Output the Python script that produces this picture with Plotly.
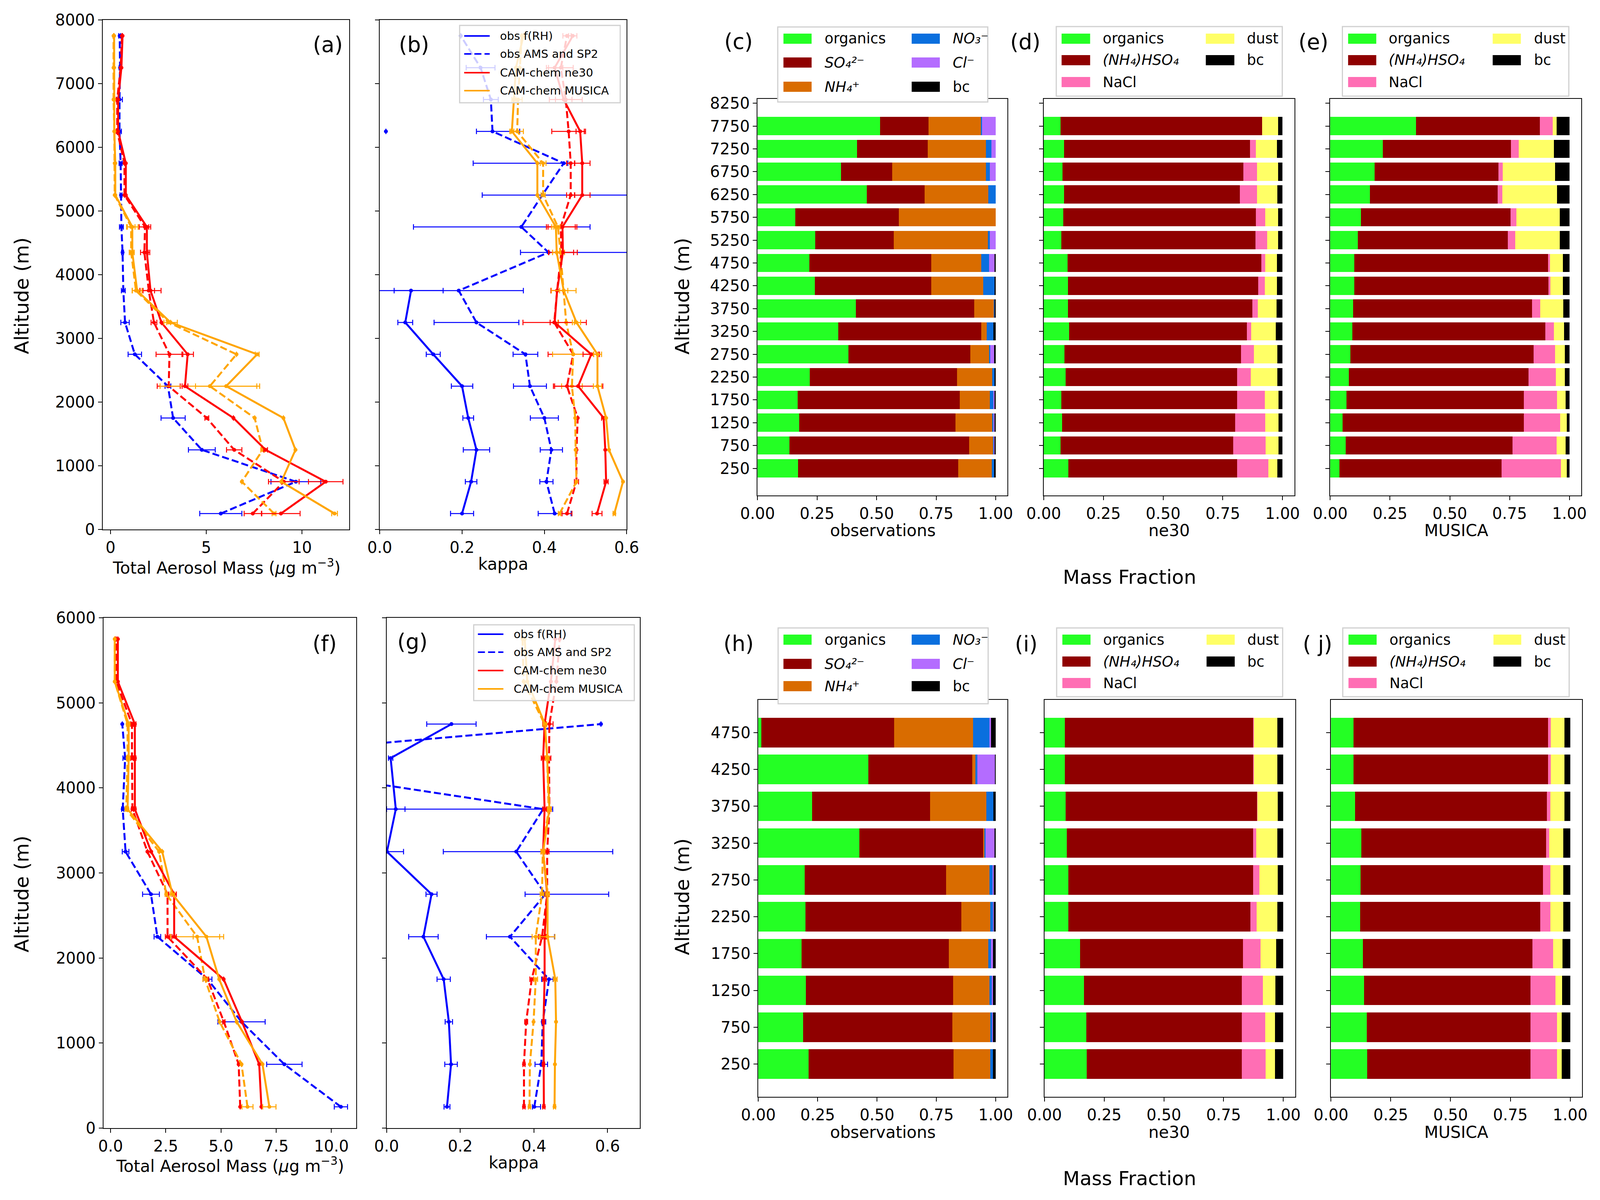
import plotly.graph_objects as go

W, H = 4205, 3071

# altitude levels
alt_prof = [250, 750, 1250, 1750, 2250, 2750, 3250, 3750, 4350, 4750, 5250, 5750, 6250, 6750, 7250, 7750]
alt_prof_low = [250, 750, 1250, 1750, 2250, 2750, 3250, 3750, 4350, 4750, 5250, 5750]
alt_bar = [250, 750, 1250, 1750, 2250, 2750, 3250, 3750, 4250, 4750, 5250, 5750, 6250, 6750, 7250, 7750]
alt_bar_low = [250, 750, 1250, 1750, 2250, 2750, 3250, 3750, 4250, 4750]

# (a) total aerosol mass, upper
ams_a = [5.76, 9.68, 4.77, 3.27, 3.0, 1.27, 0.76, 0.67, 0.63, 0.57, 0.55, 0.53, 0.47, 0.47, 0.5, 0.48]
ams_a_err = [1.1, 1.3, 0.7, 0.63, 0.15, 0.35, 0.22, 0.1, 0.05, 0.1, 0.05, 0.08, 0.1, 0.15, 0.05, 0.05]
ne30_a = [8.9, 11.24, 8.1, 6.42, 3.89, 4.03, 2.66, 2.09, 1.9, 1.9, 0.8, 0.8, 0.4, 0.4, 0.57, 0.63]
ne30_a_err = [1.0, 0.9, 0.1, 0, 0.15, 0.3, 0, 0.55, 0.15, 0.1, 0, 0, 0, 0, 0, 0]
ne30d_a = [7.43, 9.05, 6.46, 5.03, 3.04, 3.08, 2.27, 2.0, 1.77, 1.8, 0.73, 0.73, 0.35, 0.35, 0.53, 0.6]
ne30d_a_err = [0.45, 0.8, 0.4, 0.1, 0.6, 0.7, 0.15, 0.3, 0.2, 0.3, 0, 0, 0.05, 0.05, 0, 0]
mus_a = [11.7, 8.92, 9.66, 9.03, 6.04, 7.66, 3.14, 1.39, 1.14, 1.14, 0.25, 0.25, 0.2, 0.19, 0.19, 0.19]
mus_a_err = [0.15, 0, 0, 0, 1.6, 0.1, 0.35, 0.25, 0.1, 0.3, 0, 0, 0, 0, 0, 0]
musd_a = [8.54, 6.86, 7.95, 7.53, 5.19, 6.58, 3.04, 1.33, 1.08, 1.08, 0.22, 0.22, 0.2, 0.16, 0.16, 0.16]
musd_a_err = [0.1, 0, 0.1, 0, 2.6, 0, 0.1, 0.2, 0.1, 0.2, 0, 0, 0, 0, 0, 0]

# (b) kappa, upper
frh_b = [0.2, 0.222, 0.235, 0.215, 0.2, 0.13, 0.062, 0.076, None, None, None, None, 0.015, None, None, None]
frh_b_err = [0.028, 0.014, 0.032, 0.013, 0.026, 0.017, 0.018, 0.078, None, None, None, None, None, None, None, None]
ams_b = [0.425, 0.405, 0.417, 0.4, 0.365, 0.354, 0.235, 0.192, 0.41, 0.344, 0.395, 0.447, 0.274, 0.27, 0.245, 0.197]
ams_b_plus = [0.04, 0.016, 0.027, 0.034, 0.04, 0.03, 0.103, 0.157, 0.2, 0.167, 0.3, 0.01, 0.066, 0.018, 0.035, 0]
ams_b_minus = [0.04, 0.016, 0.027, 0.034, 0.04, 0.03, 0.103, 0.157, 0.068, 0.262, 0.146, 0.22, 0.039, 0.018, 0.035, 0]
ne30_b = [0.528, 0.55, 0.548, 0.544, 0.482, 0.514, 0.425, 0.431, 0.445, 0.444, 0.492, 0.492, 0.487, 0.447, 0.425, 0.469]
ne30_b_err = [0.012, 0.005, 0, 0.005, 0.06, 0.02, 0.077, 0.015, 0.035, 0.035, 0.019, 0.019, 0.01, 0.02, 0.02, 0.01]
ne30d_b = [0.455, 0.478, 0.478, 0.481, 0.455, 0.47, 0.424, 0.431, 0.441, 0.44, 0.464, 0.464, 0.459, 0.452, 0.44, 0.455]
ne30d_b_err = [0.012, 0.005, 0, 0, 0.03, 0.061, 0.01, 0.015, 0.03, 0.035, 0.01, 0.01, 0.041, 0.04, 0.03, 0.01]
mus_b = [0.57, 0.591, 0.557, 0.55, 0.529, 0.529, 0.478, 0.447, 0.43, 0.428, 0.383, 0.383, 0.321, 0.326, 0.331, 0.349]
mus_b_err = [0.003, 0, 0, 0, 0.01, 0.01, 0.01, 0.03, 0.01, 0.01, 0, 0, 0.005, 0.005, 0, 0]
musd_b = [0.437, 0.478, 0.476, 0.475, 0.467, 0.47, 0.453, 0.447, 0.439, 0.433, 0.397, 0.397, 0.334, 0.336, 0.34, 0.345]
musd_b_err = [0.003, 0, 0, 0, 0.025, 0.05, 0.02, 0.01, 0.01, 0.01, 0.005, 0.007, 0.015, 0.01, 0, 0]

# (f) total aerosol mass, lower
ams_f = [10.43, 7.87, 5.93, 4.39, 2.12, 1.83, 0.68, 0.55, 0.66, 0.53, None, None]
ams_f_err = [0.3, 0.8, 1.07, 0.2, 0.15, 0.38, 0.15, 0.05, 0.1, 0, None, None]
ne30_f = [6.83, 6.73, 5.95, 5.12, 2.88, 2.88, 1.84, 1.1, 1.1, 1.1, 0.33, 0.33]
ne30_f_err = [0, 0, 0, 0, 0.1, 0.1, 0, 0.05, 0.05, 0.05, 0, 0]
ne30d_f = [5.87, 5.8, 5.13, 4.39, 2.58, 2.58, 1.67, 0.99, 0.97, 0.97, 0.25, 0.25]
ne30d_f_err = [0, 0, 0.05, 0.05, 0.1, 0.05, 0, 0.05, 0.05, 0.05, 0, 0]
mus_f = [7.19, 6.88, 5.71, 4.92, 4.34, 2.8, 2.34, 0.77, 0.82, 0.82, 0.19, 0.19]
mus_f_err = [0.3, 0, 0, 0, 0.6, 0.1, 0, 0.05, 0.05, 0.05, 0, 0]
musd_f = [6.2, 5.93, 4.94, 4.28, 3.92, 2.52, 2.2, 0.71, 0.77, 0.77, 0.19, 0.19]
musd_f_err = [0.25, 0, 0, 0.1, 1.2, 0.05, 0, 0.05, 0.05, 0.05, 0, 0]

# (g) kappa, lower
frh_g = [0.164, 0.175, 0.169, 0.155, 0.1, 0.122, 0.001, 0.025, 0.011, 0.176, None, None]
frh_g_err = [0.008, 0.017, 0.01, 0.018, 0.04, 0.015, 0.045, 0.025, 0.006, 0.067, None, None]
ams_g = [0.401, 0.42, 0.424, 0.441, 0.335, 0.431, 0.352, 0.425, -0.49, 0.582, None, None]
ams_g_plus = [0.017, 0.017, 0.008, 0.011, 0.121, 0.172, 0.262, 0.026, 0, 0, None, None]
ams_g_minus = [0.005, 0.017, 0.003, 0.02, 0.064, 0.055, 0.198, 0.425, 0, 0, None, None]
ne30_g = [0.427, 0.426, 0.426, 0.429, 0.429, 0.436, 0.425, 0.429, 0.425, 0.429, 0.446, 0.458]
ne30_g_err = [0.003, 0.003, 0.003, 0.005, 0.005, 0.005, 0.005, 0.005, 0.005, 0.005, 0, 0]
ne30d_g = [0.373, 0.373, 0.379, 0.394, 0.422, 0.436, 0.436, 0.442, 0.441, 0.442, 0.461, 0.47]
ne30d_g_err = [0.003, 0.003, 0.004, 0.005, 0.01, 0.005, 0.005, 0.005, 0.005, 0.01, 0, 0]
mus_g = [0.456, 0.457, 0.46, 0.458, 0.437, 0.437, 0.425, 0.442, 0.436, 0.43, 0.382, 0.375]
mus_g_err = [0.003, 0, 0, 0.005, 0.02, 0.005, 0.005, 0.005, 0.005, 0.005, 0, 0]
musd_g = [0.388, 0.389, 0.399, 0.405, 0.405, 0.422, 0.424, 0.44, 0.436, 0.429, 0.372, 0.369]
musd_g_err = [0.003, 0, 0, 0.005, 0.01, 0.005, 0.005, 0.005, 0.005, 0.005, 0, 0]

# (c) observed mass fractions, upper
c_org = [.17, .134, .175, .169, .22, .381, .339, .413, .241, .217, .242, .158, .459, .35, .418, .514]
c_so4 = [.673, .755, .657, .681, .617, .513, .601, .497, .488, .513, .33, .435, .242, .215, .296, .204]
c_nh4 = [.14, .099, .154, .126, .149, .078, .022, .083, .218, .21, .396, .407, .268, .394, .245, .222]
c_no3 = [.01, .005, .005, .014, .009, .006, .029, .002, .05, .033, .008, 0, .031, .016, .023, .003]
c_cl = [0, .003, .005, .005, 0, .015, 0, 0, 0, .023, .024, 0, 0, .025, .018, .057]
c_bc = [.007, .004, .004, .005, .005, .007, .009, .005, .003, .004, 0, 0, 0, 0, 0, 0]

# (d) ne30 mass fractions, upper
d_org = [.104, .07, .077, .074, .092, .087, .107, .101, .101, .1, .074, .082, .085, .079, .085, .07]
d_sulf = [.706, .723, .724, .736, .718, .739, .743, .773, .798, .812, .812, .807, .736, .757, .779, .845]
d_nacl = [.13, .137, .126, .116, .057, .054, .019, .022, .027, .015, .049, .038, .072, .057, .024, 0]
d_dust = [.038, .054, .056, .057, .111, .098, .103, .079, .05, .049, .046, .054, .086, .088, .088, .066]
d_bc = [.022, .016, .017, .017, .022, .022, .028, .025, .024, .024, .019, .019, .021, .019, .024, .019]

# (e) MUSICA mass fractions, upper
e_org = [.039, .065, .051, .068, .077, .084, .092, .096, .101, .101, .115, .128, .166, .185, .22, .359]
e_sulf = [.678, .697, .759, .741, .752, .766, .808, .748, .811, .809, .628, .626, .534, .518, .535, .518]
e_nacl = [.247, .184, .152, .139, .114, .09, .035, .034, .009, .009, .031, .025, .019, .019, .033, .053]
e_dust = [.025, .038, .027, .036, .038, .041, .043, .097, .052, .053, .186, .181, .229, .218, .147, .016]
e_bc = [.011, .016, .011, .016, .019, .019, .022, .025, .027, .028, .04, .04, .052, .06, .065, .054]

# (h) observed mass fractions, lower
h_org = [.211, .189, .2, .182, .199, .195, .426, .226, .463, .013]
h_so4 = [.611, .629, .62, .621, .656, .596, .521, .497, .439, .559]
h_nh4 = [.155, .159, .153, .166, .122, .183, .007, .237, .013, .332]
h_no3 = [.012, .008, .01, .012, .011, .015, .003, .03, .007, .069]
h_cl = [0, .004, .006, .008, .004, .002, .038, 0, .074, .008]
h_bc = [.011, .011, .011, .011, .008, .009, .005, .01, .004, .019]

# (i) ne30 mass fractions, lower
i_org = [.177, .176, .166, .149, .1, .1, .093, .089, .085, .085]
i_sulf = [.649, .65, .66, .682, .762, .773, .78, .801, .788, .788]
i_nacl = [.1, .098, .089, .074, .027, .027, .013, .002, .004, .004]
i_dust = [.039, .041, .052, .065, .086, .076, .089, .084, .098, .098]
i_bc = [.035, .035, .033, .03, .025, .024, .025, .024, .025, .025]

# (j) MUSICA mass fractions, lower
j_org = [.152, .149, .139, .134, .122, .123, .127, .1, .095, .095]
j_sulf = [.682, .685, .695, .708, .753, .763, .772, .803, .812, .812]
j_nacl = [.111, .111, .104, .087, .043, .032, .014, .015, .012, .012]
j_dust = [.02, .02, .029, .039, .054, .054, .059, .058, .057, .057]
j_bc = [.035, .035, .033, .032, .028, .028, .028, .024, .024, .024]

FONT = "DejaVu Sans"
BLUE, RED, ORANGE = "#0000ff", "#ff0000", "#ffa500"
C_ORG, C_SO4, C_NH4, C_NO3, C_CL, C_BC = "#24ff24", "#8f0000", "#d96c00", "#0a6fde", "#b46cff", "#000000"
C_NACL, C_DUST = "#ff6eb4", "#ffff66"
DASH = "18px,8px"


def X(p):
    return p / W


def Y(p):
    return 1 - p / H


fig = go.Figure()


def prof(k, x, y, color, dash, err=None, errm=None):
    ex = dict(type="data", array=err, color=color, thickness=2.5, width=7, visible=err is not None)
    if errm is not None:
        ex["symmetric"] = False
        ex["arrayminus"] = errm
    sfx = "" if k == 1 else str(k)
    fig.add_trace(go.Scatter(x=x, y=y, mode="lines+markers",
                             line=dict(color=color, width=5, dash=dash),
                             marker=dict(color=color, size=10),
                             error_x=ex, showlegend=False,
                             xaxis="x" + sfx, yaxis="y" + sfx))


def bar(k, x, y, color):
    sfx = "" if k == 1 else str(k)
    fig.add_trace(go.Bar(x=x, y=y, orientation="h", width=400,
                         marker=dict(color=color, line=dict(width=0)),
                         showlegend=False, xaxis="x" + sfx, yaxis="y" + sfx))


# (a)
prof(1, ams_a, alt_prof, BLUE, DASH, ams_a_err)
prof(1, ne30d_a, alt_prof, RED, DASH, ne30d_a_err)
prof(1, musd_a, alt_prof, ORANGE, DASH, musd_a_err)
prof(1, ne30_a, alt_prof, RED, "solid", ne30_a_err)
prof(1, mus_a, alt_prof, ORANGE, "solid", mus_a_err)
# (b)
prof(2, frh_b, alt_prof, BLUE, "solid", frh_b_err)
prof(2, ams_b, alt_prof, BLUE, DASH, ams_b_plus, ams_b_minus)
prof(2, ne30d_b, alt_prof, RED, DASH, ne30d_b_err)
prof(2, musd_b, alt_prof, ORANGE, DASH, musd_b_err)
prof(2, ne30_b, alt_prof, RED, "solid", ne30_b_err)
prof(2, mus_b, alt_prof, ORANGE, "solid", mus_b_err)
# (f)
prof(6, ams_f, alt_prof_low, BLUE, DASH, ams_f_err)
prof(6, ne30d_f, alt_prof_low, RED, DASH, ne30d_f_err)
prof(6, musd_f, alt_prof_low, ORANGE, DASH, musd_f_err)
prof(6, ne30_f, alt_prof_low, RED, "solid", ne30_f_err)
prof(6, mus_f, alt_prof_low, ORANGE, "solid", mus_f_err)
# (g)
prof(7, frh_g, alt_prof_low, BLUE, "solid", frh_g_err)
prof(7, ams_g, alt_prof_low, BLUE, DASH, ams_g_plus, ams_g_minus)
prof(7, ne30d_g, alt_prof_low, RED, DASH, ne30d_g_err)
prof(7, musd_g, alt_prof_low, ORANGE, DASH, musd_g_err)
prof(7, ne30_g, alt_prof_low, RED, "solid", ne30_g_err)
prof(7, mus_g, alt_prof_low, ORANGE, "solid", mus_g_err)

# stacked bars
for k, alts, parts in [
    (3, alt_bar, [(c_org, C_ORG), (c_so4, C_SO4), (c_nh4, C_NH4), (c_no3, C_NO3), (c_cl, C_CL), (c_bc, C_BC)]),
    (4, alt_bar, [(d_org, C_ORG), (d_sulf, C_SO4), (d_nacl, C_NACL), (d_dust, C_DUST), (d_bc, C_BC)]),
    (5, alt_bar, [(e_org, C_ORG), (e_sulf, C_SO4), (e_nacl, C_NACL), (e_dust, C_DUST), (e_bc, C_BC)]),
    (8, alt_bar_low, [(h_org, C_ORG), (h_so4, C_SO4), (h_nh4, C_NH4), (h_no3, C_NO3), (h_cl, C_CL), (h_bc, C_BC)]),
    (9, alt_bar_low, [(i_org, C_ORG), (i_sulf, C_SO4), (i_nacl, C_NACL), (i_dust, C_DUST), (i_bc, C_BC)]),
    (10, alt_bar_low, [(j_org, C_ORG), (j_sulf, C_SO4), (j_nacl, C_NACL), (j_dust, C_DUST), (j_bc, C_BC)]),
]:
    for vals, col in parts:
        bar(k, vals, alts, col)

# axes: pixel boxes (x0, x1, y0, y1)
boxes = {
    1: (270, 918, 51, 1355), 2: (998, 1647, 51, 1355),
    3: (1991, 2648, 253, 1268), 4: (2743, 3402, 253, 1268), 5: (3496, 4156, 253, 1268),
    6: (272, 936, 1581, 2887), 7: (1016, 1682, 1581, 2887),
    8: (1993, 2648, 1791, 2807), 9: (2745, 3404, 1791, 2807), 10: (3498, 4158, 1791, 2807),
}
tickfont = dict(family=FONT, size=40, color="black")
common = dict(showline=True, mirror=True, linecolor="black", linewidth=2, ticks="outside",
              ticklen=10, tickwidth=2, tickcolor="black", showgrid=False, zeroline=False,
              tickfont=tickfont, automargin=False)
bar_x = dict(range=[0, 1.05], tickvals=[0, 0.25, 0.5, 0.75, 1.0],
             ticktext=["0.00", "0.25", "0.50", "0.75", "1.00"])
kap_x = dict(tickvals=[0, 0.2, 0.4, 0.6], ticktext=["0.0", "0.2", "0.4", "0.6"])
xs = {
    1: dict(range=[-0.405, 12.47], tickvals=[0, 5, 10]),
    2: dict(range=[0, 0.6], **kap_x),
    3: bar_x, 4: bar_x, 5: bar_x,
    6: dict(range=[-0.32, 11.12], tickvals=[0, 2.5, 5, 7.5, 10], ticktext=["0.0", "2.5", "5.0", "7.5", "10.0"]),
    7: dict(range=[0, 0.688], **kap_x),
    8: bar_x, 9: bar_x, 10: bar_x,
}
up_y = list(range(250, 8251, 500))
low_y = list(range(250, 4751, 500))
ys = {
    1: dict(range=[0, 8000], tickvals=list(range(0, 8001, 1000))),
    2: dict(range=[0, 8000], tickvals=list(range(0, 8001, 1000)), showticklabels=False),
    3: dict(range=[-345, 8345], tickvals=up_y),
    4: dict(range=[-345, 8345], tickvals=up_y, showticklabels=False),
    5: dict(range=[-345, 8345], tickvals=up_y, showticklabels=False),
    6: dict(range=[0, 6000], tickvals=list(range(0, 6001, 1000))),
    7: dict(range=[0, 6000], tickvals=list(range(0, 6001, 1000)), showticklabels=False),
    8: dict(range=[-195, 5195], tickvals=low_y),
    9: dict(range=[-195, 5195], tickvals=low_y, showticklabels=False),
    10: dict(range=[-195, 5195], tickvals=low_y, showticklabels=False),
}
layout = {}
for k, (x0, x1, y0, y1) in boxes.items():
    sfx = "" if k == 1 else str(k)
    layout["xaxis" + sfx] = dict(domain=[X(x0), X(x1)], anchor="y" + sfx, **common, **xs[k])
    layout["yaxis" + sfx] = dict(domain=[Y(y1), Y(y0)], anchor="x" + sfx, **common, **ys[k])

ann = []
shapes = []


def text(x, y, s, size, angle=0, anchor="center"):
    ann.append(dict(x=X(x), y=Y(y), xref="paper", yref="paper", text=s, showarrow=False,
                    font=dict(family=FONT, size=size, color="black"), textangle=angle,
                    xanchor=anchor, yanchor="middle"))


# panel labels
for lab, x, y in [("(a)", 862, 114), ("(b)", 1088, 114), ("(c)", 1941, 106), ("(d)", 2695, 107),
                  ("(e)", 3452, 107), ("(f)", 853, 1647), ("(g)", 1084, 1642), ("(h)", 1941, 1647),
                  ("(i)", 2697, 1648), ("( j)", 3463, 1648)]:
    text(x, y, lab, 55)

# axis titles
for x, y in [(57, 757), (1793, 758), (57, 2288), (1793, 2295)]:
    text(x, y, "Altitude (m)", 50, angle=-90)
mass_lab = "Total Aerosol Mass (<i>μ</i>g m<sup>−3</sup>)"
text(595, 1451, mass_lab, 42)
text(605, 2981, mass_lab, 42)
text(1322, 1443, "kappa", 42)
text(1350, 2975, "kappa", 42)
for yy in (1357, 2897):
    text(2320, yy, "observations", 42)
    text(3073, yy, "ne30", 42)
    text(3827, yy, "MUSICA", 42)
text(2968, 1477, "Mass Fraction", 50)
text(2968, 3016, "Mass Fraction", 50)


def box(x0, y0, x1, y1, fill="rgba(255,255,255,0.8)"):
    shapes.append(dict(type="rect", xref="paper", yref="paper", x0=X(x0), x1=X(x1), y0=Y(y1), y1=Y(y0),
                       line=dict(color="#d0d0d0", width=3), fillcolor=fill, layer="above"))


# line legends for (b) and (g)
line_items = [("obs f(RH)", BLUE, "solid"), ("obs AMS and SP2", BLUE, DASH),
              ("CAM-chem ne30", RED, "solid"), ("CAM-chem MUSICA", ORANGE, "solid")]
for bx0, by0, bx1, by1, lx0, lx1, tx, rows in [
    (1208, 65, 1630, 263, 1220, 1287, 1312, [92, 138, 186, 232]),
    (1245, 1599, 1667, 1793, 1256, 1323, 1348, [1623, 1669, 1716, 1763]),
]:
    box(bx0, by0, bx1, by1)
    for (lab, col, dash), ry in zip(line_items, rows):
        shapes.append(dict(type="line", xref="paper", yref="paper", x0=X(lx0), x1=X(lx1), y0=Y(ry), y1=Y(ry),
                           line=dict(color=col, width=4, dash=dash), layer="above"))
        text(tx, ry, lab, 29, anchor="left")

# bar legends
obs_items = [[("organics", C_ORG), ("<i>SO₄²⁻</i>", C_SO4), ("<i>NH₄⁺</i>", C_NH4)],
             [("<i>NO₃⁻</i>", C_NO3), ("<i>Cl⁻</i>", C_CL), ("bc", C_BC)]]
mod_items = [[("organics", C_ORG), ("<i>(NH₄)HSO₄</i>", C_SO4), ("NaCl", C_NACL)],
             [("dust", C_DUST), ("bc", C_BC)]]
for bx0, by0, bx1, by1, cols, rows, items in [
    (2044, 69, 2596, 261, [(2059, 2133, 2165), (2396, 2470, 2502)], [99, 160, 222], obs_items),
    (2776, 68, 3370, 246, [(2790, 2865, 2896), (3169, 3244, 3275)], [99, 154, 210], mod_items),
    (3528, 68, 4123, 246, [(3543, 3617, 3648), (3923, 3997, 4029)], [99, 154, 210], mod_items),
    (2045, 1607, 2597, 1801, [(2059, 2133, 2165), (2396, 2470, 2502)], [1637, 1699, 1756], obs_items),
    (2777, 1607, 3371, 1783, [(2792, 2866, 2897), (3171, 3245, 3276)], [1637, 1693, 1748], mod_items),
    (3529, 1607, 4124, 1783, [(3544, 3618, 3650), (3925, 3998, 4029)], [1637, 1693, 1748], mod_items),
]:
    box(bx0, by0, bx1, by1, fill="white")
    for (px0, px1, tx), col_items in zip(cols, items):
        for (lab, c), ry in zip(col_items, rows):
            shapes.append(dict(type="rect", xref="paper", yref="paper", x0=X(px0), x1=X(px1),
                               y0=Y(ry + 13), y1=Y(ry - 13), line=dict(width=0), fillcolor=c, layer="above"))
            text(tx, ry, lab, 37, anchor="left")

fig.update_layout(**layout)
fig.update_layout(width=W, height=H, margin=dict(l=0, r=0, t=0, b=0, pad=0, autoexpand=False),
                  barmode="stack", template="none",
                  plot_bgcolor="white", paper_bgcolor="white", annotations=ann, shapes=shapes,
                  font=dict(family=FONT, color="black"))
# drop the page's default body margin and fit the figure to the visible window
fit = ("document.body.style.margin='0px';document.body.style.overflow='hidden';"
       "var gd=document.getElementById('{plot_id}');"
       "Plotly.relayout(gd,{width:window.innerWidth,height:window.innerHeight});")
fig.write_html("out.html", post_script=fit, config={"displayModeBar": False})
